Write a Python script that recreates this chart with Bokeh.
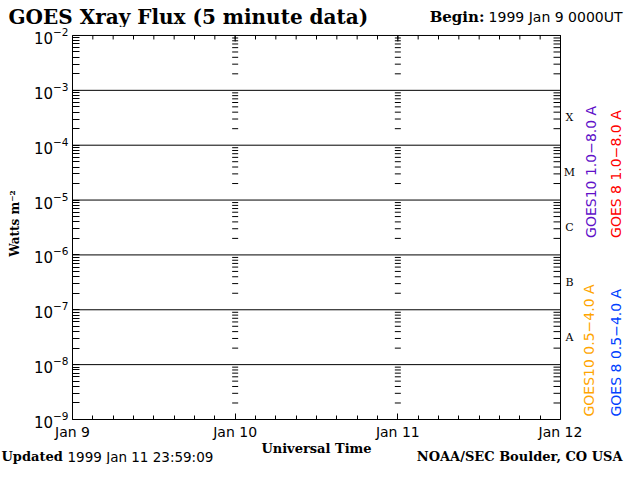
import numpy as np
from bokeh.plotting import figure
from bokeh.layouts import column
from bokeh.models import (Range1d, LinearAxis, LogAxis, FixedTicker, Label,
                          LogTickFormatter)
from bokeh.embed import file_html
from bokeh.resources import INLINE

# ---------------- data ----------------
day_ticks = [0, 1, 2, 3]
day_labels = ["Jan 9", "Jan 10", "Jan 11", "Jan 12"]
decade_exponents = [-9, -8, -7, -6, -5, -4, -3, -2]
flare_classes = ["A", "B", "C", "M", "X"]
flare_thresholds = [1e-8, 1e-7, 1e-6, 1e-5, 1e-4]
series_names = ["GOES10 1.0\u22128.0 A", "GOES 8 1.0\u22128.0 A",
                "GOES10 0.5\u22124.0 A", "GOES 8 0.5\u22124.0 A"]
series_colors = ["#6010c8", "#ff0000", "#ffa500", "#0040ff"]
title_text = "GOES Xray Flux (5 minute data)"
begin_label = "Begin:"
begin_text = "1999 Jan 9 0000UT"
updated_label = "Updated"
updated_text = "1999 Jan 11 23:59:09"
credit_text = "NOAA/SEC Boulder, CO USA"
x_title = "Universal Time"
y_title = "Watts m\u207b\u00b2"

# ---------------- layout (page pixels) ----------------
W = 624
HEAD_H, FOOT_H = 27, 22
MAIN_H = 464 - HEAD_H - FOOT_H
FL, FR, FT, FB = 72, 560, 35, 420
x0, x1 = day_ticks[0], day_ticks[-1]
e0, e1 = decade_exponents[0], decade_exponents[-1]
serif = "DejaVu Serif"
sans = "DejaVu Sans"


def X(px):
    return x0 + (px - FL) / (FR - FL) * (x1 - x0)


def Y(py):
    return 10 ** (e0 + (FB - py) / (FB - FT) * (e1 - e0))


def no_align(fig):
    if "frame_align" in fig.properties():
        fig.frame_align = False


def blank_fig(height, y_top):
    f = figure(frame_width=W, frame_height=height, x_range=Range1d(0, W),
               y_range=Range1d(y_top + height, y_top),
               x_axis_location=None, y_axis_location=None,
               output_backend="svg", toolbar_location=None,
               min_border_left=0, min_border_right=0, min_border_top=0,
               min_border_bottom=0)
    f.xgrid.visible = False
    f.ygrid.visible = False
    f.outline_line_color = None
    f.title.visible = False
    f.border_fill_color = "white"
    f.background_fill_color = "white"
    no_align(f)
    return f


def add_label(fig, text, x, y, font=serif, size="13px", style="normal",
              color="black", align="left", baseline="middle", angle=0.0):
    fig.add_layout(Label(x=x, y=y, text=text, text_font=font,
                         text_font_size=size, text_font_style=style,
                         text_color=color, text_align=align,
                         text_baseline=baseline, angle=angle))


# ---------------- header ----------------
head = blank_fig(HEAD_H, 0)
add_label(head, title_text, 8, 16.5, size="20px", style="bold")
add_label(head, begin_label, 484, 16.5, size="15px", style="bold", align="right")
add_label(head, begin_text, 622, 16.5, font=sans, size="14px", align="right")

# ---------------- main plot ----------------
decades = [10.0 ** e for e in decade_exponents]
minor_log = [m * 10.0 ** e for e in decade_exponents[:-1] for m in range(2, 10)]
minor_time = list(np.arange(x0, x1 + 1e-9, 0.125))

p = figure(width=W, height=MAIN_H, x_range=Range1d(x0, X(W)),
           y_range=Range1d(decades[0], Y(HEAD_H)), y_axis_type="log",
           x_axis_location=None, y_axis_location=None,
           output_backend="svg", toolbar_location=None,
           min_border_left=FL, min_border_right=0, min_border_top=0,
           min_border_bottom=MAIN_H - (FB - HEAD_H))
p.xgrid.visible = False
p.ygrid.visible = False
p.title.visible = False
p.outline_line_color = None
p.background_fill_color = "white"
p.border_fill_color = "white"
no_align(p)

left = LogAxis(ticker=FixedTicker(ticks=decades, minor_ticks=minor_log),
               formatter=LogTickFormatter(), bounds=(decades[0], decades[-1]),
               major_tick_in=7, major_tick_out=0, minor_tick_in=7, minor_tick_out=0,
               major_label_standoff=4, major_label_text_font=sans,
               major_label_text_font_size="15px", major_label_text_color="black",
               axis_line_color="black", axis_label=y_title,
               axis_label_text_font=serif, axis_label_text_font_style="bold",
               axis_label_text_font_size="12px", axis_label_standoff=9,
               axis_label_text_color="black")
p.add_layout(left, "left")

bottom = LinearAxis(ticker=FixedTicker(ticks=day_ticks, minor_ticks=minor_time),
                    major_label_overrides={t: lab for t, lab in zip(day_ticks, day_labels)},
                    bounds=(x0, x1),
                    major_tick_in=6, major_tick_out=0, minor_tick_in=4, minor_tick_out=0,
                    major_label_standoff=4, major_label_text_font=sans,
                    major_label_text_font_size="14px", major_label_text_color="black",
                    axis_line_color="black")
p.add_layout(bottom, "below")

# decade lines plus the top and right edges of the plotting box
p.segment(x0=[x0] * (len(decades) - 1), y0=decades[1:],
          x1=[x1] * (len(decades) - 1), y1=decades[1:],
          line_color="black", line_width=1)
p.segment(x0=[x1], y0=[decades[0]], x1=[x1], y1=[decades[-1]],
          line_color="black", line_width=1)

# inward ticks on the right and top edges
p.ray(x=[x1] * len(minor_log), y=minor_log, length=7, length_units="screen",
      angle=np.pi, line_color="black", line_width=1)
p.ray(x=minor_time, y=[decades[-1]] * len(minor_time), length=4,
      length_units="screen", angle=-np.pi / 2, line_color="black", line_width=1)
p.ray(x=day_ticks, y=[decades[-1]] * len(day_ticks), length=6,
      length_units="screen", angle=-np.pi / 2, line_color="black", line_width=1)

# columns of log minor ticks at interior day boundaries
col_x = [d for d in day_ticks[1:-1] for _ in minor_log]
col_y = [v for _ in day_ticks[1:-1] for v in minor_log]
p.scatter(col_x, col_y, marker="dash", size=6, line_color="black", line_width=1)

# flare class letters at the geometric middle of each class decade
for cls, thr in zip(flare_classes, flare_thresholds):
    add_label(p, cls, X(569), thr * np.sqrt(10), size="11px", align="center")

# rotated series legend
legend_pos = [(590, 238), (615, 238), (588.5, 417), (615, 417)]
for name, color, (px, py) in zip(series_names, series_colors, legend_pos):
    add_label(p, name, X(px), Y(py), font=sans, size="14px", color=color,
              align="left", angle=np.pi / 2)

# ---------------- footer ----------------
foot = blank_fig(FOOT_H, 464 - FOOT_H)
add_label(foot, x_title, 316, 448, size="13px", style="bold", align="center")
add_label(foot, updated_label, 1, 456, size="13px", style="bold")
add_label(foot, updated_text, 67, 456, font=sans, size="13.5px")
add_label(foot, credit_text, 622, 456, size="13px", style="bold", align="right")

layout = column(head, p, foot, spacing=0)
open("out.html", "w").write(file_html(layout, INLINE))
